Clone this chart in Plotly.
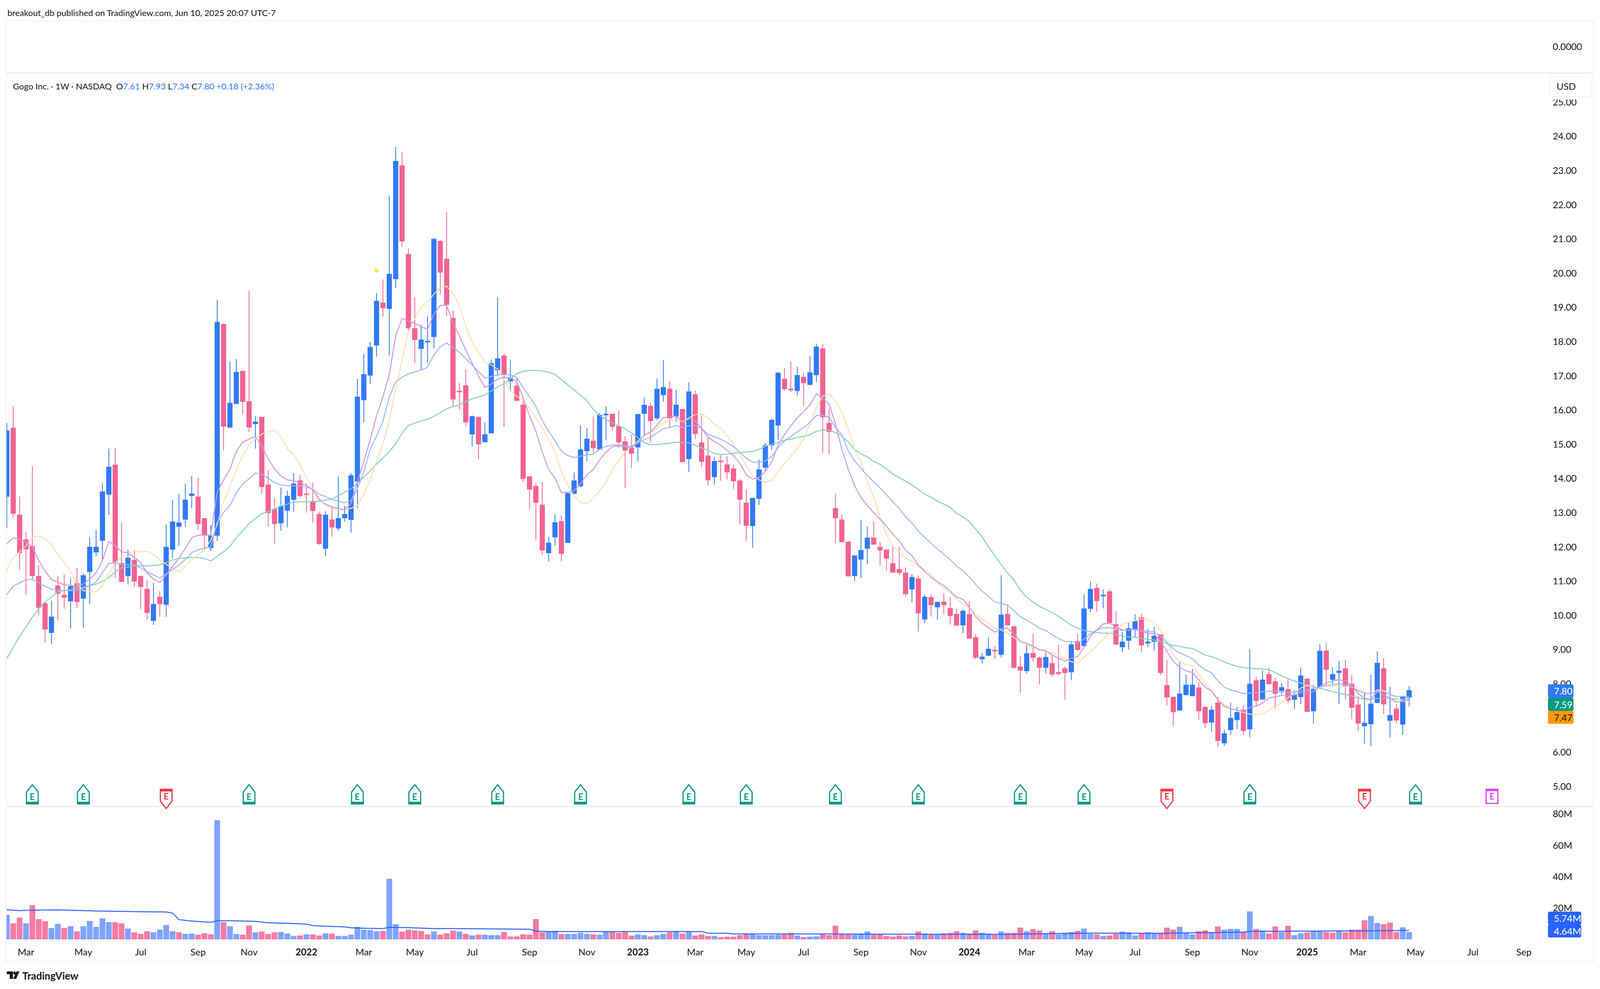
"""Gogo Inc. weekly candles with moving averages and volume, TradingView look."""

import pandas as pd
import plotly.graph_objects as go

# the window really opens at 4096 wide, so reference x pixels are squeezed into that
REF_W, REF_H = 4950, 2532
WIN_W, WIN_H = 4096, 2532
PAGE_MARGIN = 8  # default body margin of the page
W, H = WIN_W - 2 * PAGE_MARGIN, WIN_H - 2 * PAGE_MARGIN
SX = WIN_W / REF_W

# weekly bars, Mondays
opens = [
    13.48, 15.47, 12.93, 12.21, 12.01, 11.14, 10.34, 9.50, 10.86, 10.59,
    10.42, 10.93, 10.50, 11.28, 11.85, 12.19, 13.54, 14.39, 11.51, 11.16,
    11.61, 11.14, 10.76, 9.85, 10.53, 10.32, 11.93, 12.60, 12.81, 13.50,
    13.46, 12.83, 11.98, 12.34, 18.50, 15.50, 16.19, 17.13, 16.25, 15.60,
    15.79, 13.81, 13.10, 12.70, 13.07, 13.39, 13.93, 13.55, 13.33, 12.95,
    11.96, 12.79, 12.55, 12.85, 12.80, 13.92, 16.30, 17.02, 17.90, 19.13,
    18.97, 19.84, 23.14, 20.55, 18.38, 17.80, 17.99, 18.15, 20.93, 20.41,
    18.68, 16.55, 16.71, 15.30, 15.79, 15.07, 15.33, 17.17, 17.58, 16.85,
    16.70, 16.15, 14.05, 13.77, 13.22, 11.83, 12.29, 12.74, 12.13, 13.56,
    13.78, 14.81, 15.09, 14.86, 15.86, 15.88, 15.52, 15.07, 14.89, 14.92,
    15.90, 16.11, 15.77, 16.45, 16.61, 15.82, 16.02, 14.58, 16.45, 15.04,
    14.66, 14.05, 14.51, 14.40, 14.28, 13.93, 13.28, 12.62, 13.42, 14.33,
    14.98, 15.56, 16.90, 16.61, 16.57, 16.96, 16.75, 17.03, 17.79, 15.61,
    13.12, 12.79, 12.14, 11.16, 11.64, 11.96, 12.26, 11.99, 11.91, 11.51,
    11.34, 11.24, 10.77, 11.07, 9.89, 10.52, 10.25, 10.39, 10.20, 10.03,
    9.72, 10.03, 9.35, 8.73, 8.83, 8.98, 8.86, 10.03, 9.67, 8.49,
    8.38, 8.89, 8.75, 8.48, 8.59, 8.33, 8.44, 8.35, 9.24, 9.11,
    10.20, 10.79, 10.57, 10.69, 9.73, 9.08, 9.27, 9.61, 9.93, 9.19,
    9.24, 9.43, 7.95, 7.61, 7.23, 7.68, 7.65, 7.88, 7.31, 6.88,
    7.44, 6.27, 6.66, 6.95, 7.23, 6.68, 8.09, 7.55, 8.27, 8.06,
    7.80, 7.83, 7.54, 7.62, 8.14, 7.21, 7.91, 8.96, 8.13, 8.33,
    8.44, 7.99, 7.38, 6.77, 6.83, 7.45, 8.44, 6.93, 7.26, 6.82,
    7.61,
]
highs = [
    15.62, 16.12, 13.47, 12.44, 14.37, 11.47, 10.38, 10.43, 11.14, 11.19,
    11.09, 11.39, 11.22, 12.28, 12.50, 13.87, 14.87, 14.90, 12.73, 11.92,
    11.92, 11.14, 11.02, 10.95, 10.71, 12.65, 13.36, 13.55, 13.85, 14.07,
    14.02, 12.83, 12.63, 19.22, 18.54, 17.42, 17.49, 17.13, 19.49, 15.82,
    15.79, 14.24, 13.42, 13.73, 13.65, 14.16, 14.10, 13.85, 13.87, 13.03,
    13.04, 13.18, 14.05, 13.20, 14.16, 16.91, 17.64, 17.99, 19.42, 19.82,
    22.27, 23.69, 23.53, 20.73, 19.31, 18.49, 18.75, 21.03, 20.97, 21.79,
    18.91, 16.79, 17.19, 15.84, 15.81, 15.64, 17.47, 19.30, 17.65, 17.47,
    16.94, 16.40, 14.05, 13.87, 13.90, 12.30, 12.96, 12.92, 13.61, 14.17,
    15.55, 15.47, 15.81, 15.91, 16.11, 15.90, 15.98, 15.24, 15.29, 15.89,
    16.37, 16.22, 16.92, 17.46, 16.84, 16.59, 16.02, 16.81, 16.57, 15.84,
    15.23, 14.63, 14.68, 14.65, 14.40, 13.98, 13.69, 13.43, 14.55, 15.04,
    15.75, 17.11, 17.22, 17.42, 17.27, 17.09, 17.58, 17.94, 17.93, 16.04,
    13.55, 12.95, 12.18, 11.74, 12.79, 12.60, 12.74, 12.14, 11.91, 12.00,
    12.00, 11.40, 11.21, 11.16, 10.61, 10.60, 10.39, 10.65, 10.53, 10.20,
    10.17, 10.41, 9.45, 8.90, 9.35, 9.10, 11.17, 10.31, 9.67, 8.82,
    9.14, 9.47, 8.80, 8.96, 8.84, 9.14, 8.51, 9.21, 9.46, 10.61,
    11.00, 10.93, 10.76, 10.76, 10.12, 9.51, 9.80, 10.03, 10.04, 9.61,
    9.67, 9.43, 8.70, 7.61, 8.66, 8.27, 8.43, 8.05, 7.35, 7.35,
    7.62, 6.66, 7.45, 7.32, 7.37, 9.01, 8.20, 8.39, 8.47, 8.18,
    8.01, 8.14, 7.81, 8.47, 8.14, 7.97, 9.15, 9.20, 8.48, 8.67,
    8.70, 8.25, 7.64, 7.73, 8.25, 8.95, 8.75, 7.91, 7.40, 7.65,
    7.93,
]
lows = [
    12.55, 12.87, 11.33, 10.59, 11.06, 10.00, 9.20, 9.17, 9.87, 10.19,
    9.61, 10.22, 9.64, 10.34, 11.73, 11.60, 12.93, 11.09, 10.98, 10.90,
    10.83, 10.18, 9.87, 9.72, 9.96, 9.96, 11.67, 12.03, 12.59, 13.14,
    12.50, 11.92, 11.88, 12.18, 14.83, 15.47, 16.19, 15.86, 15.36, 14.87,
    13.55, 12.59, 12.08, 12.47, 12.57, 13.03, 13.44, 13.00, 12.70, 12.06,
    11.73, 12.30, 12.47, 12.74, 12.42, 13.12, 15.64, 16.76, 17.56, 18.73,
    17.60, 19.56, 20.77, 18.32, 17.37, 17.17, 17.37, 17.80, 19.38, 18.75,
    16.10, 16.01, 15.52, 14.94, 14.56, 15.07, 15.33, 16.99, 15.51, 16.57,
    16.28, 13.90, 13.09, 12.19, 11.78, 11.57, 12.04, 11.58, 12.13, 13.56,
    13.74, 14.51, 14.75, 14.83, 15.12, 15.40, 14.90, 13.73, 14.30, 14.50,
    15.23, 15.06, 15.70, 16.24, 15.49, 15.65, 14.49, 14.19, 15.15, 14.33,
    13.80, 13.82, 13.93, 13.97, 13.69, 12.65, 12.18, 11.98, 13.23, 14.22,
    14.84, 15.13, 16.56, 16.52, 16.43, 16.12, 16.72, 16.82, 14.75, 14.71,
    12.10, 12.15, 11.13, 11.01, 11.10, 11.49, 12.06, 11.46, 11.31, 11.25,
    11.18, 10.55, 10.39, 9.53, 9.77, 9.96, 9.87, 10.03, 9.73, 9.71,
    9.48, 9.33, 8.73, 8.59, 8.81, 8.73, 8.77, 9.72, 8.43, 7.74,
    8.30, 8.65, 7.98, 8.30, 8.20, 8.24, 7.52, 8.10, 8.97, 9.11,
    10.09, 10.11, 10.21, 9.79, 9.13, 8.92, 9.00, 9.34, 8.93, 9.07,
    8.97, 8.25, 7.37, 6.77, 7.23, 7.66, 7.65, 6.95, 6.70, 6.60,
    6.16, 6.19, 6.50, 6.68, 6.50, 6.44, 7.33, 7.55, 7.98, 7.29,
    7.69, 7.43, 7.26, 7.41, 7.18, 6.84, 7.90, 7.95, 7.98, 7.41,
    7.54, 6.97, 6.61, 6.25, 6.18, 7.43, 7.12, 6.43, 6.84, 6.51,
    7.34,
]
closes = [
    15.39, 12.98, 11.83, 11.94, 11.16, 10.23, 9.60, 9.95, 10.64, 10.53,
    10.84, 10.40, 11.16, 11.99, 11.99, 13.61, 14.33, 11.56, 10.99, 11.67,
    11.00, 10.84, 10.08, 10.32, 10.34, 11.99, 12.73, 12.70, 13.37, 13.55,
    12.68, 12.34, 12.32, 18.56, 15.53, 16.20, 17.10, 16.25, 15.50, 15.65,
    13.76, 13.00, 12.68, 13.18, 13.48, 13.84, 13.50, 13.53, 13.06, 12.10,
    12.93, 12.58, 12.83, 12.95, 14.08, 16.38, 17.04, 17.83, 19.18, 18.99,
    19.97, 23.27, 20.94, 18.40, 18.06, 18.05, 18.01, 20.99, 20.03, 19.09,
    16.32, 16.53, 15.65, 15.81, 15.01, 15.28, 17.36, 17.50, 17.06, 16.93,
    16.28, 14.00, 13.69, 13.30, 11.91, 12.11, 12.71, 11.81, 13.56, 13.93,
    14.84, 15.15, 14.90, 15.85, 15.88, 15.52, 15.07, 14.83, 14.74, 15.87,
    16.14, 15.69, 16.61, 16.66, 15.77, 16.15, 14.49, 16.53, 15.31, 14.50,
    13.96, 14.50, 14.49, 14.19, 13.93, 13.39, 12.63, 13.42, 14.25, 14.96,
    15.70, 17.08, 16.62, 16.59, 17.01, 16.80, 17.09, 17.84, 15.80, 15.37,
    12.85, 12.15, 11.15, 11.74, 11.90, 12.26, 12.08, 11.91, 11.67, 11.26,
    11.25, 10.63, 11.11, 10.07, 10.53, 10.31, 10.38, 10.31, 9.99, 9.71,
    10.12, 9.33, 8.77, 8.78, 9.01, 8.96, 10.01, 9.72, 8.48, 8.40,
    8.88, 8.77, 8.48, 8.77, 8.28, 8.30, 8.33, 9.14, 9.00, 10.19,
    10.76, 10.43, 10.59, 9.79, 9.16, 9.22, 9.61, 9.82, 9.13, 9.22,
    9.39, 8.33, 7.61, 7.18, 7.70, 7.96, 7.96, 7.21, 6.86, 7.23,
    6.34, 6.54, 6.99, 7.16, 6.63, 7.99, 7.51, 8.11, 8.00, 7.72,
    7.89, 7.52, 7.67, 8.23, 7.19, 7.83, 8.95, 8.42, 8.27, 8.37,
    7.94, 7.31, 6.85, 6.85, 7.41, 8.60, 7.41, 7.07, 6.94, 7.61,
    7.80,
]

# the four averages, one value per bar
ma_purple = [
    12.09, 12.27, 12.22, 12.16, 12.00, 11.60, 11.29, 11.05, 10.97, 10.89,
    10.88, 10.82, 10.92, 11.05, 11.24, 11.60, 12.16, 12.03, 11.86, 11.82,
    11.70, 11.54, 11.24, 11.06, 10.96, 11.18, 11.43, 11.67, 11.96, 12.27,
    12.34, 12.35, 12.35, 13.60, 13.95, 14.27, 14.79, 15.06, 15.15, 15.23,
    14.94, 14.58, 14.28, 14.07, 13.96, 13.93, 13.88, 13.80, 13.67, 13.38,
    13.25, 13.17, 13.12, 13.09, 13.27, 13.90, 14.49, 15.14, 15.83, 16.39,
    17.04, 18.16, 18.68, 18.61, 18.53, 18.44, 18.36, 18.80, 19.06, 19.06,
    18.55, 18.17, 17.75, 17.37, 16.99, 16.66, 16.76, 16.91, 16.95, 16.94,
    16.84, 16.35, 15.84, 15.38, 14.77, 14.26, 14.01, 13.59, 13.59, 13.65,
    13.85, 14.11, 14.26, 14.54, 14.77, 14.93, 14.95, 14.93, 14.90, 15.05,
    15.27, 15.36, 15.56, 15.78, 15.78, 15.83, 15.64, 15.74, 15.69, 15.46,
    15.21, 15.08, 14.97, 14.82, 14.67, 14.44, 14.11, 13.98, 14.03, 14.21,
    14.49, 14.98, 15.28, 15.54, 15.77, 15.95, 16.15, 16.47, 16.35, 16.17,
    15.59, 14.85, 14.27, 13.79, 13.45, 13.21, 13.00, 12.81, 12.61, 12.37,
    12.18, 11.90, 11.75, 11.46, 11.28, 11.11, 10.98, 10.87, 10.71, 10.53,
    10.47, 10.23, 9.97, 9.77, 9.64, 9.51, 9.61, 9.63, 9.46, 9.24,
    9.18, 9.10, 8.99, 8.97, 8.84, 8.75, 8.66, 8.75, 8.79, 9.06,
    9.39, 9.57, 9.75, 9.77, 9.67, 9.57, 9.56, 9.59, 9.53, 9.48,
    9.46, 9.24, 8.95, 8.66, 8.48, 8.38, 8.33, 8.11, 7.90, 7.79,
    7.53, 7.34, 7.27, 7.23, 7.18, 7.31, 7.34, 7.44, 7.58, 7.62,
    7.66, 7.64, 7.67, 7.74, 7.72, 7.77, 7.92, 8.02, 8.08, 8.12,
    8.08, 7.95, 7.72, 7.57, 7.54, 7.77, 7.67, 7.58, 7.46, 7.49,
    7.54,
]
ma_orange = [
    11.34, 11.68, 11.85, 12.03, 12.26, 12.32, 12.23, 12.08, 11.77, 11.57,
    11.27, 10.91, 10.72, 10.70, 10.68, 10.87, 11.21, 11.54, 11.70, 11.80,
    11.89, 11.86, 11.87, 11.79, 11.62, 11.49, 11.39, 11.27, 11.43, 11.63,
    11.77, 11.90, 12.20, 12.65, 13.31, 13.77, 14.26, 14.65, 14.98, 15.17,
    15.30, 15.37, 15.42, 15.22, 14.87, 14.70, 14.39, 14.03, 13.70, 13.44,
    13.22, 13.11, 13.09, 13.09, 13.13, 13.21, 13.54, 13.96, 14.50, 15.00,
    15.70, 16.60, 17.47, 18.30, 18.66, 19.00, 19.16, 19.39, 19.57, 19.62,
    19.41, 19.06, 18.44, 17.98, 17.68, 17.40, 17.32, 17.20, 16.89, 16.56,
    16.40, 16.28, 16.05, 15.77, 15.49, 15.15, 14.77, 14.21, 13.80, 13.50,
    13.30, 13.26, 13.42, 13.65, 13.88, 14.26, 14.52, 14.77, 14.93, 15.10,
    15.23, 15.33, 15.46, 15.63, 15.69, 15.72, 15.66, 15.77, 15.87, 15.88,
    15.78, 15.59, 15.46, 15.26, 14.98, 14.70, 14.36, 14.08, 13.96, 13.89,
    13.95, 14.19, 14.44, 14.65, 14.90, 15.15, 15.59, 16.07, 16.41, 16.47,
    16.27, 15.94, 15.43, 14.85, 14.48, 13.90, 13.46, 12.88, 12.37, 12.01,
    11.86, 11.68, 11.57, 11.46, 11.34, 11.21, 10.95, 10.81, 10.66, 10.48,
    10.33, 10.21, 10.04, 9.88, 9.77, 9.62, 9.57, 9.48, 9.35, 9.24,
    9.15, 9.08, 8.99, 8.94, 8.89, 8.84, 8.73, 8.64, 8.60, 8.77,
    8.95, 9.13, 9.30, 9.48, 9.62, 9.74, 9.79, 9.85, 9.90, 9.88,
    9.79, 9.57, 9.24, 8.84, 8.64, 8.56, 8.53, 8.28, 8.00, 7.80,
    7.54, 7.39, 7.29, 7.21, 7.16, 7.11, 7.10, 7.12, 7.23, 7.34,
    7.44, 7.59, 7.74, 7.87, 7.95, 7.88, 7.90, 7.92, 7.93, 7.92,
    7.92, 7.90, 7.82, 7.74, 7.68, 7.82, 7.80, 7.69, 7.59, 7.49,
    7.47,
]
ma_blue = [
    10.61, 10.85, 10.95, 11.04, 11.05, 10.95, 10.85, 10.76, 10.73, 10.72,
    10.72, 10.72, 10.78, 10.87, 10.97, 11.24, 11.52, 11.53, 11.48, 11.48,
    11.47, 11.39, 11.27, 11.18, 11.09, 11.21, 11.34, 11.47, 11.63, 11.83,
    11.92, 11.96, 12.00, 12.72, 13.01, 13.21, 13.58, 13.84, 13.99, 14.16,
    14.13, 14.01, 13.88, 13.81, 13.79, 13.79, 13.78, 13.75, 13.69, 13.54,
    13.47, 13.39, 13.34, 13.29, 13.35, 13.70, 14.19, 14.85, 15.24, 15.66,
    16.39, 16.82, 16.96, 17.06, 17.12, 17.17, 17.25, 17.61, 17.85, 17.96,
    17.83, 17.69, 17.50, 17.32, 17.12, 16.94, 16.98, 17.03, 17.04, 17.03,
    16.95, 16.66, 16.39, 16.11, 15.69, 15.38, 15.10, 14.80, 14.67, 14.61,
    14.65, 14.69, 14.71, 14.85, 14.94, 14.98, 14.98, 14.96, 14.94, 15.03,
    15.14, 15.20, 15.33, 15.46, 15.49, 15.55, 15.49, 15.54, 15.55, 15.46,
    15.29, 15.22, 15.15, 15.05, 14.93, 14.77, 14.59, 14.48, 14.47, 14.52,
    14.65, 14.90, 15.10, 15.23, 15.36, 15.49, 15.64, 15.84, 15.84, 15.79,
    15.49, 15.28, 14.81, 14.52, 14.30, 14.08, 13.90, 13.72, 13.52, 13.32,
    13.12, 12.88, 12.70, 12.46, 12.28, 12.10, 11.94, 11.79, 11.63, 11.44,
    11.31, 11.12, 10.90, 10.71, 10.55, 10.39, 10.35, 10.30, 10.13, 9.96,
    9.86, 9.75, 9.62, 9.56, 9.43, 9.32, 9.24, 9.23, 9.21, 9.30,
    9.46, 9.57, 9.64, 9.64, 9.59, 9.56, 9.57, 9.59, 9.56, 9.53,
    9.51, 9.39, 9.21, 9.02, 8.90, 8.82, 8.73, 8.55, 8.41, 8.32,
    8.08, 7.90, 7.82, 7.77, 7.71, 7.73, 7.74, 7.77, 7.78, 7.78,
    7.76, 7.75, 7.75, 7.79, 7.81, 7.87, 7.91, 7.95, 7.97, 8.00,
    7.98, 7.90, 7.80, 7.73, 7.70, 7.79, 7.77, 7.69, 7.63, 7.63,
    7.62,
]
ma_green = [
    8.74, 9.07, 9.39, 9.66, 9.95, 10.19, 10.40, 10.53, 10.69, 10.72,
    10.75, 10.78, 10.82, 10.87, 10.91, 10.99, 11.10, 11.27, 11.39, 11.41,
    11.45, 11.45, 11.44, 11.46, 11.48, 11.54, 11.62, 11.66, 11.68, 11.69,
    11.69, 11.66, 11.59, 11.72, 11.86, 12.02, 12.27, 12.47, 12.68, 12.83,
    12.97, 13.03, 13.11, 13.19, 13.25, 13.31, 13.32, 13.32, 13.31, 13.34,
    13.37, 13.40, 13.50, 13.60, 13.70, 13.86, 14.05, 14.22, 14.42, 14.60,
    14.78, 15.01, 15.32, 15.55, 15.62, 15.68, 15.73, 15.82, 15.92, 16.04,
    16.10, 16.15, 16.25, 16.33, 16.38, 16.44, 16.56, 16.68, 16.77, 16.91,
    17.07, 17.13, 17.16, 17.16, 17.14, 17.11, 17.04, 16.89, 16.73, 16.58,
    16.43, 16.28, 16.02, 15.84, 15.72, 15.63, 15.54, 15.45, 15.33, 15.19,
    15.05, 14.99, 14.99, 15.01, 15.03, 15.06, 15.05, 15.04, 14.97, 14.90,
    14.82, 14.73, 14.70, 14.71, 14.74, 14.75, 14.78, 14.79, 14.85, 14.94,
    15.00, 15.05, 15.12, 15.15, 15.20, 15.23, 15.28, 15.38, 15.42, 15.41,
    15.34, 15.23, 15.07, 14.85, 14.72, 14.63, 14.50, 14.41, 14.28, 14.13,
    14.03, 13.92, 13.81, 13.68, 13.54, 13.45, 13.34, 13.25, 13.16, 12.98,
    12.88, 12.74, 12.52, 12.30, 12.01, 11.75, 11.48, 11.24, 11.03, 10.74,
    10.53, 10.39, 10.26, 10.17, 10.08, 9.97, 9.84, 9.71, 9.62, 9.56,
    9.53, 9.50, 9.48, 9.48, 9.44, 9.40, 9.37, 9.36, 9.33, 9.30,
    9.28, 9.24, 9.17, 9.12, 9.09, 9.05, 9.03, 8.94, 8.84, 8.79,
    8.73, 8.64, 8.57, 8.51, 8.47, 8.45, 8.44, 8.43, 8.41, 8.33,
    8.23, 8.15, 8.08, 8.02, 7.97, 7.90, 7.87, 7.82, 7.77, 7.73,
    7.69, 7.64, 7.58, 7.55, 7.54, 7.57, 7.58, 7.57, 7.55, 7.54,
    7.59,
]

# volume in millions
volumes = [
    15.7, 10.2, 13.9, 10.2, 21.7, 12.9, 11.7, 7.2, 9.9, 7.2,
    8.4, 5.2, 8.4, 11.7, 8.0, 13.4, 11.0, 11.0, 10.2, 6.9,
    4.5, 3.5, 5.2, 4.5, 6.2, 9.2, 5.2, 4.5, 3.5, 3.7,
    3.0, 3.9, 3.2, 76.0, 11.0, 8.4, 3.5, 3.0, 8.9, 4.5,
    5.0, 3.5, 4.5, 4.7, 3.7, 2.2, 2.5, 3.2, 3.2, 2.5,
    3.9, 3.7, 2.2, 2.2, 3.0, 8.0, 6.2, 6.0, 5.2, 5.4,
    38.6, 9.7, 5.0, 6.2, 5.7, 5.4, 3.2, 5.0, 3.0, 3.9,
    5.7, 5.0, 3.5, 2.5, 3.0, 3.0, 2.7, 2.7, 4.7, 1.9,
    1.9, 3.2, 3.0, 12.9, 4.5, 5.0, 5.4, 3.5, 3.5, 3.5,
    4.2, 3.5, 3.2, 3.0, 5.0, 4.7, 4.2, 5.2, 2.5, 3.2,
    2.7, 1.9, 2.7, 3.5, 4.5, 5.4, 3.7, 5.2, 2.5, 3.2,
    2.2, 2.2, 1.5, 1.75, 1.75, 2.7, 3.2, 3.7, 2.7, 2.7,
    2.7, 3.0, 3.5, 4.2, 2.5, 1.5, 1.75, 1.9, 3.5, 2.7,
    8.7, 3.7, 3.7, 3.0, 3.7, 5.0, 3.0, 3.2, 2.2, 1.75,
    2.5, 1.9, 2.2, 5.0, 3.7, 3.0, 3.2, 3.9, 4.2, 5.2,
    4.2, 3.7, 5.7, 4.2, 3.7, 3.0, 5.0, 4.2, 4.2, 7.5,
    5.2, 6.5, 5.7, 3.7, 5.2, 3.2, 4.2, 4.7, 5.4, 6.9,
    3.5, 3.2, 2.2, 2.5, 3.5, 5.0, 4.5, 2.5, 4.2, 4.5,
    3.9, 3.9, 7.5, 6.2, 8.0, 4.2, 3.2, 5.2, 5.7, 4.5,
    8.2, 6.2, 6.7, 6.7, 4.7, 17.9, 6.7, 5.7, 3.7, 8.2,
    4.7, 8.7, 2.7, 3.9, 4.5, 5.2, 5.2, 4.7, 4.2, 5.7,
    4.5, 6.2, 6.2, 12.2, 14.9, 10.4, 9.7, 10.7, 4.7, 7.7,
    4.64,
]
# u = blue bar, d = pink bar (not always the candle's colour)
volume_dir = (
    "u d d u d d d u u d "
    "u d u u u u u d d u "
    "d d d u u u u d u u "
    "d d d u d u u d d u "
    "d d d u u u d u d d "
    "u d u u u u u u u d "
    "u u d d d d d u d d "
    "d u d u d u u u d d "
    "d d d d d u u d u u "
    "u u d u u d d d d u "
    "u d u u d u d u d d "
    "d u d d d d d u u u "
    "u u d d u d u u d d "
    "d d d u u u d d d d "
    "d d u d u d u d d d "
    "u d d u u d u d d d "
    "u d d u d u u u d u "
    "u d u d d u u u d u "
    "u d d d u u u d d u "
    "d u u u d u d u d d "
    "u d u u d u u d d u "
    "d d d d u u d d d u "
    "u"
).split()

vol_ma_weeks = [
    0, 2, 4, 8, 10, 13, 14, 18, 21, 25, 26, 27, 29, 32, 33, 35, 39, 41, 44, 47,
    48, 50, 53, 54, 56, 59, 60, 63, 67, 70, 75, 82, 83, 85, 109, 110, 113, 114,
    129, 140, 157, 162, 171, 181, 191, 194, 195, 211, 214, 220,
]
vol_ma = [
    18.9, 18.4, 18.6, 18.8, 18.6, 18.3, 18.1, 17.9, 17.6, 17.5, 16.8, 12.6, 11.7, 10.9, 11.9, 11.9, 11.5, 10.6, 10.3, 9.7,
    8.8, 8.4, 8.0, 7.4, 7.1, 6.9, 7.7, 7.5, 6.9, 6.9, 6.7, 6.5, 5.3, 5.0, 5.0, 4.0, 3.9, 3.5,
    3.5, 3.3, 3.2, 3.6, 4.0, 3.9, 4.5, 4.7, 5.1, 5.3, 5.5, 5.74,
]

# earnings flags: green = beat, red = miss, purple = upcoming
earn_dates = [
    "2021-03-08", "2021-05-03", "2021-08-02", "2021-11-01", "2022-02-28", "2022-05-02", "2022-08-01",
    "2022-10-31", "2023-02-27", "2023-05-01", "2023-08-07", "2023-11-06", "2024-02-26", "2024-05-06",
    "2024-08-05", "2024-11-04", "2025-03-10", "2025-05-05", "2025-07-28",
]
earn_kinds = [
    "up", "up", "down", "up", "up", "up", "up",
    "up", "up", "up", "up", "up", "up", "up",
    "down", "up", "down", "up", "next",
]

tick_dates = [
    "2021-03-01", "2021-05-03", "2021-07-05", "2021-09-06", "2021-11-01", "2022-01-03",
    "2022-03-07", "2022-05-02", "2022-07-04", "2022-09-05", "2022-11-07", "2023-01-02",
    "2023-03-06", "2023-05-01", "2023-07-03", "2023-09-04", "2023-11-06", "2024-01-01",
    "2024-03-04", "2024-05-06", "2024-07-01", "2024-09-02", "2024-11-04", "2025-01-06",
    "2025-03-03", "2025-05-05", "2025-07-07", "2025-09-01",
]
tick_labels = [
    "Mar", "May", "Jul", "Sep", "Nov", "<b>2022</b>",
    "Mar", "May", "Jul", "Sep", "Nov", "<b>2023</b>",
    "Mar", "May", "Jul", "Sep", "Nov", "<b>2024</b>",
    "Mar", "May", "Jul", "Sep", "Nov", "<b>2025</b>",
    "Mar", "May", "Jul", "Sep",
]
price_ticks = list(range(5, 26))
volume_ticks = [20, 40, 60, 80]
volume_tick_labels = ["20M", "40M", "60M", "80M"]

BLUE = "#3179F5"
PINK = "#F26392"
VOL_BLUE = "#7FA3FF"
VOL_PINK = "#F57BA4"
INK = "#131722"
FONT = "Lato, Inter, sans-serif"
FONT_SIZE = 24
HEADER_SIZE = 22


def fx(px):
    """Reference x pixel to paper fraction."""
    return (px * SX - PAGE_MARGIN) / W


def fy(px):
    """Reference y pixel to paper fraction."""
    return 1 - (px - PAGE_MARGIN) / H


def rounded(x0, y0, x1, y1, r=6):
    """Rounded box as an SVG path, paper units, given reference pixels."""
    return (
        f"M {fx(x0 + r)} {fy(y0)} L {fx(x1 - r)} {fy(y0)} Q {fx(x1)} {fy(y0)} {fx(x1)} {fy(y0 + r)} "
        f"L {fx(x1)} {fy(y1 - r)} Q {fx(x1)} {fy(y1)} {fx(x1 - r)} {fy(y1)} "
        f"L {fx(x0 + r)} {fy(y1)} Q {fx(x0)} {fy(y1)} {fx(x0)} {fy(y1 - r)} "
        f"L {fx(x0)} {fy(y0 + r)} Q {fx(x0)} {fy(y0)} {fx(x0 + r)} {fy(y0)} Z"
    )


def text(x, y, s, size=FONT_SIZE, color=INK, anchor="left"):
    return dict(
        x=fx(x), y=fy(y), xref="paper", yref="paper", text=s, showarrow=False,
        xanchor=anchor, yanchor="middle", font=dict(family=FONT, size=size, color=color),
    )


dates = pd.date_range("2021-02-08", periods=len(closes), freq="7D")
anchor_date = pd.Timestamp("2022-01-03")  # first bar of 2022
x_start = anchor_date + pd.Timedelta(days=-47.06 * 7)
x_end = anchor_date + pd.Timedelta(days=194.73 * 7)

fig = go.Figure()

# empty top pane only carries its 0.0000 label
fig.add_trace(go.Scatter(x=[dates[0]], y=[0], mode="markers", marker=dict(opacity=0), xaxis="x3", yaxis="y3"))

# averages sit under the candles
for series, color in [(ma_green, "#86D0BC"), (ma_orange, "#FFDDB0"), (ma_blue, "#9DB6FF"), (ma_purple, "#CF97DC")]:
    fig.add_trace(go.Scatter(x=dates, y=series, mode="lines", line=dict(color=color, width=2.5), xaxis="x", yaxis="y"))

fig.add_trace(go.Candlestick(
    x=dates, open=opens, high=highs, low=lows, close=closes,
    increasing=dict(line=dict(color=BLUE, width=2), fillcolor=BLUE),
    decreasing=dict(line=dict(color=PINK, width=2), fillcolor=PINK),
    whiskerwidth=0, xaxis="x", yaxis="y",
))
# small yellow dot above the Mar 2022 bars
fig.add_trace(go.Scatter(
    x=[dates[58]], y=[20.08], mode="markers", marker=dict(color="#FFEB3B", size=10), xaxis="x", yaxis="y",
))

fig.add_trace(go.Bar(
    x=dates, y=volumes, marker=dict(color=[VOL_BLUE if d == "u" else VOL_PINK for d in volume_dir], line=dict(width=0)),
    xaxis="x2", yaxis="y2",
))
fig.add_trace(go.Scatter(
    x=[dates[i] for i in vol_ma_weeks], y=vol_ma, mode="lines", line=dict(color="#2962FF", width=2.5),
    xaxis="x2", yaxis="y2",
))

shapes = [
    dict(type="rect", xref="paper", yref="paper", x0=fx(19), x1=fx(4930), y0=fy(53), y1=fy(2461),
         line=dict(color="#F3F3F3", width=3), layer="below"),
    dict(type="line", xref="paper", yref="paper", x0=fx(19), x1=fx(4930), y0=fy(187), y1=fy(187),
         line=dict(color="#ECECEC", width=3), layer="below"),
    dict(type="line", xref="paper", yref="paper", x0=fx(19), x1=fx(4930), y0=fy(2065), y1=fy(2065),
         line=dict(color="#ECECEC", width=3), layer="below"),
    # USD box hides the top of the 25.00 label
    dict(type="rect", xref="paper", yref="paper", x0=fx(4790), x1=fx(4926), y0=fy(192), y1=fy(255),
         fillcolor="white", line=dict(width=0), layer="above"),
    dict(type="path", xref="paper", yref="paper", path=rounded(4793, 196, 4922, 248, 12),
         fillcolor="white", line=dict(color="#F1F1F3", width=2), layer="above"),
]

annotations = [
    text(20, 32, "breakout_db published on TradingView.com, Jun 10, 2025 20:07 UTC-7", size=HEADER_SIZE),
    text(37, 221, (
        "Gogo Inc. · 1W · NASDAQ\u00a0\u00a0"
        f"O<span style='color:{BLUE}'>7.61</span>\u00a0"
        f"H<span style='color:{BLUE}'>7.93</span>\u00a0"
        f"L<span style='color:{BLUE}'>7.34</span>\u00a0"
        f"C<span style='color:{BLUE}'>7.80</span>\u00a0"
        f"<span style='color:{BLUE}'>+0.18 (+2.36%)</span>"
    ), size=HEADER_SIZE),
    text(4813, 221, "USD"),
    text(67, 2498, "<b>TradingView</b>", size=26),
]

# last-value tags on the price and volume axes
for top, bottom, right, fill, label, label_color in [
    (1752, 1786, 4868, BLUE, "7.80", "white"),
    (1786, 1820, 4868, "#089981", "7.59", "white"),
    (1820, 1853, 4868, "#FF9800", "7.47", INK),
    (2334, 2367, 4892, "#2962FF", "5.74M", "white"),
    (2367, 2400, 4892, "#2962FF", "4.64M", "white"),
]:
    shapes.append(dict(type="path", xref="paper", yref="paper", path=rounded(4789, top, right, bottom, 5),
                       fillcolor=fill, line=dict(width=0), layer="above"))
    annotations.append(text(4805, (top + bottom) / 2, label, color=label_color))

# earnings flags are pixel sized, anchored on their week
flag_paths = {
    "up": "M -15 -18 L -15 12 L 0 31 L 15 12 L 15 -18 Z",
    "down": "M -15 18 L -15 -12 L 0 -31 L 15 -12 L 15 18 Z",
    "next": "M -15 -18 L -15 18 L 15 18 L 15 -18 Z",
}
flag_bars = {
    "up": "M -15 -18 L 15 -18 L 15 -14 L -15 -14 Z",
    "down": "M -15 18 L 15 18 L 15 14 L -15 14 Z",
    "next": "M -15 18 L 15 18 L 15 15 L -15 15 Z",
}
flag_colors = {"up": "#089981", "down": "#F23645", "next": "#E040FB"}
flag_mid = {"up": 2040, "down": 2039, "next": 2039}
for when, kind in zip(earn_dates, earn_kinds):
    for path, fill in [(flag_paths[kind], "white"), (flag_bars[kind], flag_colors[kind])]:
        shapes.append(dict(
            type="path", xref="x", yref="paper", xsizemode="pixel", ysizemode="pixel",
            xanchor=when, yanchor=fy(flag_mid[kind]), path=path, fillcolor=fill,
            line=dict(color=flag_colors[kind], width=3), layer="above",
        ))
    annotations.append(dict(
        x=when, y=fy(flag_mid[kind] - 1), xref="x", yref="paper", text="<b>E</b>", showarrow=False,
        xanchor="center", yanchor="middle", font=dict(family=FONT, size=22, color=flag_colors[kind]),
    ))

# TradingView mark: bar, dot and slanted stroke
for path in [
    f"M {fx(21)} {fy(2487)} L {fx(40)} {fy(2487)} L {fx(40)} {fy(2506)} L {fx(30)} {fy(2506)} L {fx(30)} {fy(2494)} L {fx(21)} {fy(2494)} Z",
    f"M {fx(51)} {fy(2487)} L {fx(60)} {fy(2487)} L {fx(50)} {fy(2506)} L {fx(41)} {fy(2506)} Z",
]:
    shapes.append(dict(type="path", xref="paper", yref="paper", path=path, fillcolor=INK, line=dict(width=0)))
shapes.append(dict(type="circle", xref="paper", yref="paper", x0=fx(41), x1=fx(49), y0=fy(2487), y1=fy(2495),
                   fillcolor=INK, line=dict(width=0)))

axis_font = dict(family=FONT, size=FONT_SIZE, color=INK)
hidden_x = dict(type="date", range=[x_start, x_end], domain=[fx(20), fx(4788)], showgrid=False, zeroline=False,
                showticklabels=False, ticks="", showline=False)

fig.update_layout(
    width=W, height=H, autosize=False, margin=dict(l=0, r=0, t=0, b=0),
    paper_bgcolor="white", plot_bgcolor="white", showlegend=False, hovermode=False,
    boxgap=0.31, boxgroupgap=0, bargap=0.1, font=axis_font, shapes=shapes, annotations=annotations,
    xaxis=dict(**hidden_x, anchor="y", rangeslider=dict(visible=False)),
    xaxis3=dict(**hidden_x, anchor="y3", matches="x"),
    xaxis2=dict(
        type="date", range=[x_start, x_end], domain=[fx(20), fx(4788)], anchor="y2", matches="x",
        showgrid=False, zeroline=False, showline=False, ticks="", tickmode="array",
        tickvals=tick_dates, ticktext=tick_labels, tickfont=axis_font, ticklabelstandoff=16,
    ),
    yaxis=dict(
        domain=[fy(2065), fy(187)], range=[4.41, 25.85], anchor="x", side="right", showgrid=False,
        zeroline=False, showline=False, ticks="", tickmode="array", tickvals=price_ticks,
        ticktext=[f"{t:.2f}" for t in price_ticks], tickfont=axis_font, ticklabelstandoff=12,
    ),
    yaxis2=dict(
        domain=[fy(2405), fy(2065)], range=[0, 84.7], anchor="x2", side="right", showgrid=False,
        zeroline=False, showline=False, ticks="", tickmode="array", tickvals=volume_ticks,
        ticktext=volume_tick_labels, tickfont=axis_font, ticklabelstandoff=12,
    ),
    yaxis3=dict(
        domain=[fy(187), fy(53)], range=[-1, 1], anchor="x3", side="right", showgrid=False,
        zeroline=False, showline=False, ticks="", tickmode="array", tickvals=[0],
        ticktext=["0.0000"], tickfont=axis_font, ticklabelstandoff=12,
    ),
)

fig.write_html("out.html")
